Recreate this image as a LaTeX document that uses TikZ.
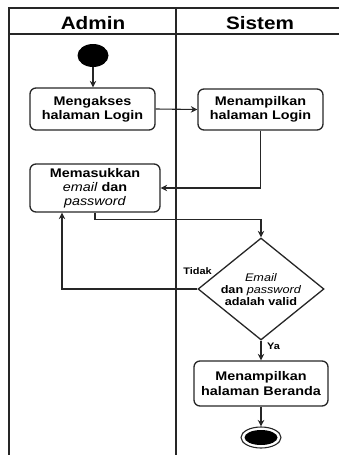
\documentclass[tikz,border=0pt]{standalone}
\usepackage{fontspec}
\setmainfont{Liberation Sans}[FakeStretch=1.15]
\usetikzlibrary{shapes.geometric,arrows.meta}
\begin{document}
\begin{tikzpicture}[x=1pt,y=1pt,
  frameline/.style={line width=1.5pt, draw=black!85},
  hdr/.style={font=\fontsize{18}{20}\selectfont\bfseries, inner sep=0pt},
  act/.style={draw=black!85, rounded corners=6pt, line width=1.3pt, align=center,
    font=\fontsize{12.5}{14.2}\selectfont\bfseries, inner sep=0pt},
  dec/.style={draw=black!85, diamond, line width=1.3pt, inner sep=0pt},
  flow/.style={-{Stealth[length=6.5pt,width=6.5pt]}, line width=1.1pt, draw=black!85},
  lbl/.style={font=\fontsize{9.5}{11}\selectfont\bfseries, inner sep=0pt}
]
\useasboundingbox (0,0) rectangle (339,-455);
% swimlane frame
\draw[frameline] (339,-8) -- (9,-8) -- (9,-455);
\draw[frameline] (9,-34) -- (339,-34);
\draw[frameline] (176,-8) -- (176,-455);
\node[hdr, anchor=base] (hA) at (93,-29.5) {Admin};
\node[hdr, anchor=base] (hS) at (260,-29.5) {Sistem};
% nodes
\node[fill=black, ellipse, minimum width=31pt, minimum height=23pt, inner sep=0pt] (start) at (93,-55.5) {};
\node[act, minimum width=125pt, minimum height=42pt] (b1) at (92.5,-109) {Mengakses\\halaman Login};
\node[act, minimum width=125pt, minimum height=41pt] (b2) at (260.5,-109.5) {Menampilkan\\halaman Login};
\node[act, minimum width=130pt, minimum height=48pt] (b3) at (95,-188) {Memasukkan\\\textmd{\textit{email}} dan\\\textmd{\textit{password}}};
\node[dec, minimum width=126pt, minimum height=102pt] (d) at (261,-289) {};
\node[align=center, font=\fontsize{11}{12}\selectfont\bfseries, inner sep=0pt] (dt) at (261,-290) {\textmd{\textit{Email}}\\dan \textmd{\textit{password}}\\adalah valid};
\node[act, minimum width=134pt, minimum height=45pt] (b4) at (261,-383.5) {Menampilkan\\halaman Beranda};
\node[draw=black!85, line width=1.1pt, ellipse, minimum width=40pt, minimum height=21pt, inner sep=0pt] (end) at (261,-437.5) {};
\node[fill=black, ellipse, minimum width=33pt, minimum height=15pt, inner sep=0pt] (endin) at (end) {};
% labels
\node[lbl, anchor=base east] (tidak) at (212,-274.5) {Tidak};
\node[lbl, anchor=base west] (ya) at (267,-349) {Ya};
% connectors
\coordinate (loopx) at (62,-289);
\draw[flow] (start.south) -- (start.south |- b1.north);
\draw[flow] (b1.east) -- (b2.west);
\draw[flow] (b2.south) |- (b3.east);
\draw[flow] (b3.south) -- ++(0,-7) -| (d.north);
\draw[flow] (d.west) -- (loopx) -- (loopx |- b3.south);
\draw[flow] (d.south) -- (b4.north);
\draw[flow] (b4.south) -- (end.north);
\end{tikzpicture}
\end{document}
